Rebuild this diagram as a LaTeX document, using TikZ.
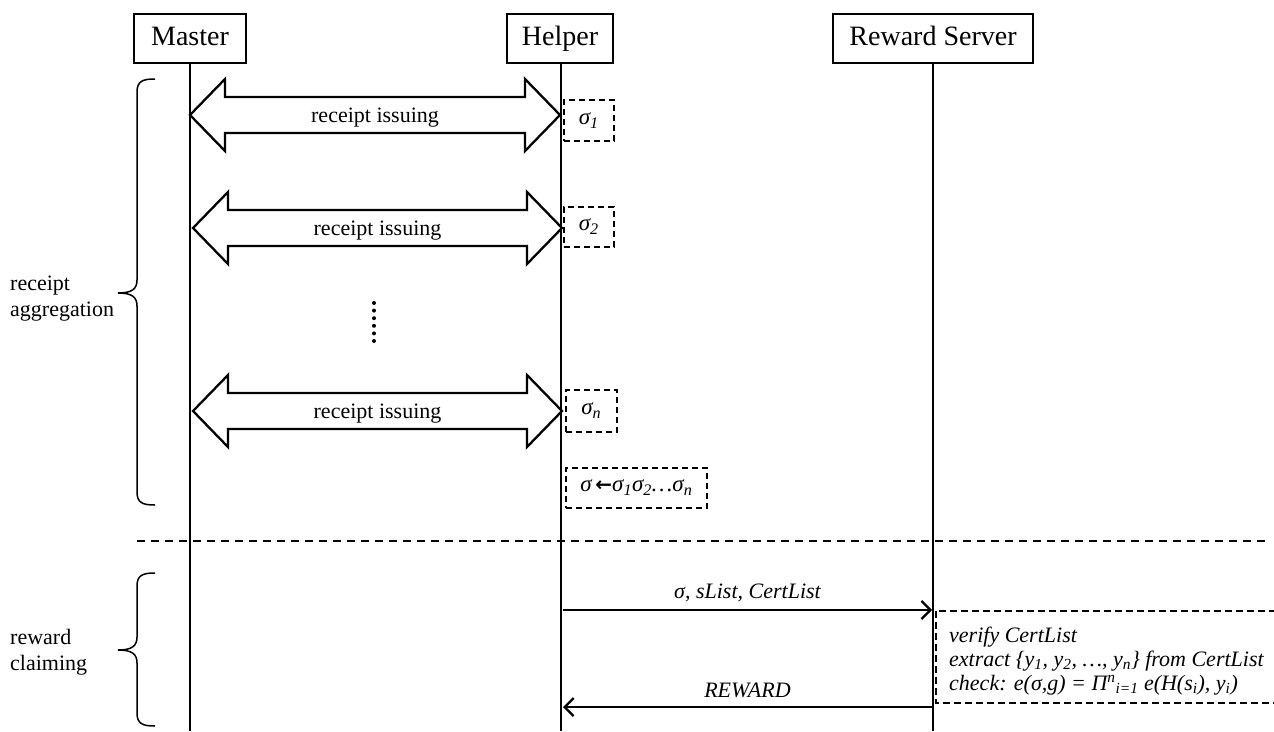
\documentclass[tikz,border=0pt]{standalone}
\usepackage{fontspec}
\setmainfont{Liberation Serif}
\usetikzlibrary{arrows.meta}
\begin{document}
\begin{tikzpicture}[x=1pt,y=-1pt,
  actor/.style={draw, line width=1.4pt, minimum height=49pt, inner sep=0pt, text height=19pt, text depth=5pt, font=\fontsize{28}{32}\selectfont},
  life/.style={line width=1.7pt},
  darrow/.style={draw, line width=2.3pt, fill=white, line join=miter},
  lbl/.style={font=\fontsize{22}{25}\selectfont, inner sep=1pt},
  sbox/.style={draw, line width=1.6pt, dash pattern=on 6pt off 4pt, inner sep=0pt, anchor=north west, font=\fontsize{23}{26}\selectfont\itshape},
  msg/.style={line width=2.3pt, -{Straight Barb[length=9pt,width=18pt,line width=2.3pt]}},
  side/.style={font=\fontsize{22}{26}\selectfont, align=left, anchor=west, inner sep=0pt},
  brace/.style={line width=1.5pt}]
\clip (0,0) rectangle (1274,731);
\fill[white] (0,0) rectangle (1274,731);

% actors
\node[actor, minimum width=112pt] (master) at (190,38.5) {Master};
\node[actor, minimum width=106pt] (helper) at (560,38.5) {Helper};
\node[actor, minimum width=200pt] (server) at (933,38.5) {Reward Server};

% lifelines
\coordinate (mEnd) at (190,731);
\coordinate (hEnd) at (561,731);
\coordinate (sEnd) at (933,731);
\draw[life] (master.south) -- (mEnd);
\draw[life] (561,63) -- (hEnd);
\draw[life] (server.south) -- (sEnd);

% double arrows
\foreach \cy/\lx/\rx/\nm in {115/190/560/r1, 228/193/562/r2, 411/193/562/r3}{
  \draw[darrow] (\lx,\cy) -- (\lx+35,\cy-36) -- (\lx+35,\cy-18) -- (\rx-35,\cy-18) -- (\rx-35,\cy-36)
     -- (\rx,\cy) -- (\rx-35,\cy+36) -- (\rx-35,\cy+18) -- (\lx+35,\cy+18) -- (\lx+35,\cy+36) -- cycle;
  \node[lbl] (\nm) at ({(\lx+\rx)/2},\cy+3) {receipt issuing};
}

% dots
\foreach \k in {0,...,5}{ \fill (374,303+7.6*\k) circle (2pt); }

% sigma boxes
\node[sbox, minimum width=50pt, minimum height=41pt] (s1) at (563,99) {σ\textsubscript{1}};
\node[sbox, minimum width=50pt, minimum height=40pt] (s2) at (563,206) {σ\textsubscript{2}};
\node[sbox, minimum width=51pt, minimum height=42pt] (sn) at (565,389) {σ\textsubscript{\itshape n}};
\node[sbox, minimum width=141pt, minimum height=40pt] (sall) at (565,467) {σ\,{\upshape\fontspec{DejaVu Sans}\fontsize{20}{22}\selectfont\bfseries ←}σ\textsubscript{1}σ\textsubscript{2}…σ\textsubscript{n}};

% separator
\draw[line width=1.5pt, dash pattern=on 8pt off 6pt] (137,541) -- (1265,541);

% braces
\draw[brace] (155,79) .. controls (143,79) and (137,81) .. (137,92) -- (137,280)
  .. controls (137,289) and (132,293) .. (118,293) .. controls (132,293) and (137,297) .. (137,306)
  -- (137,492) .. controls (137,503) and (143,505) .. (155,505);
\node[side] (agg) at (10,299) {receipt\\aggregation};
\draw[brace] (155,573) .. controls (143,573) and (137,575) .. (137,586) -- (137,637)
  .. controls (137,646) and (132,650) .. (118,650) .. controls (132,650) and (137,654) .. (137,663)
  -- (137,713) .. controls (137,724) and (143,726) .. (155,726);
\node[side] (claim) at (10,652) {reward\\claiming};

% messages
\coordinate (h1) at (563,610);
\coordinate (s1m) at (932,610);
\draw[msg] (h1) -- (s1m) node[midway, above=6pt, lbl, font=\fontsize{22}{25}\selectfont\itshape] (m1) {σ, sList, CertList};
\coordinate (s2m) at (932,707);
\coordinate (h2) at (563,707);
\draw[msg] (s2m) -- (h2) node[midway, above=7pt, lbl, font=\fontsize{22}{25}\selectfont\itshape] (m2) {REWARD};

% verify box
\draw[line width=1.5pt, dash pattern=on 7pt off 4pt] (936,611) rectangle (1300,703);
\node[anchor=west, align=left, inner sep=0pt, font=\fontsize{22}{24}\selectfont\itshape] (verify) at (949,661)
  {verify CertList\\
   extract \{y\textsubscript{1}, y\textsubscript{2}, …, y\textsubscript{n}\} from CertList\\
   check: e(σ,g) = Π\textsuperscript{n}\textsubscript{i=1} e(H(s\textsubscript{i}), y\textsubscript{i})};
\end{tikzpicture}
\end{document}
